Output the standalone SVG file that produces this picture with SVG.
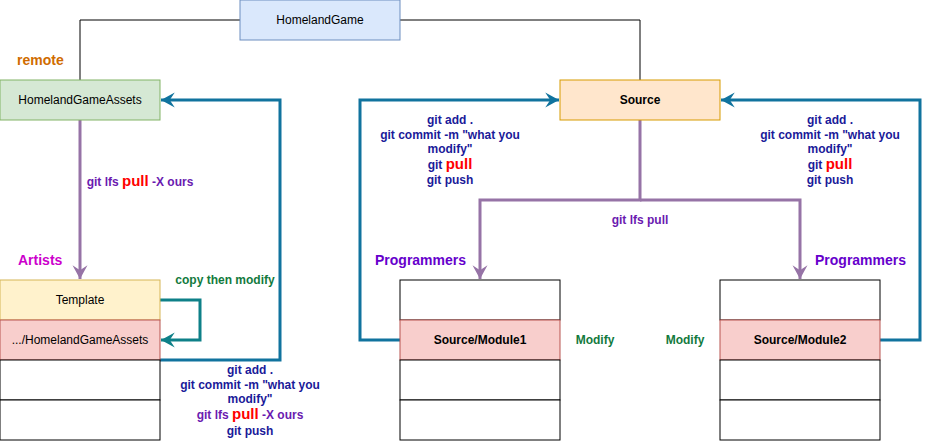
<svg xmlns="http://www.w3.org/2000/svg" width="930" height="441" viewBox="0 0 930 441">
<style>
text{font-family:"Liberation Sans",Arial,sans-serif;font-size:12px;text-anchor:middle}
.b{font-weight:bold}
.cmd{fill:#1a1a99;font-weight:bold;font-size:12px}
.pur{fill:#6a1ab0;font-weight:bold}
.red{fill:#ff0000;font-weight:bold;font-size:15px}
.lab{font-size:14px;font-weight:bold;text-anchor:start}
.grn{fill:#137a3d;font-weight:bold}
.blue{fill:none;stroke:#10739e;stroke-width:3}
.purl{fill:none;stroke:#9673a6;stroke-width:3}
.teal{fill:none;stroke:#0e8088;stroke-width:3}
</style>
<defs>
<marker id="aBlue" markerUnits="userSpaceOnUse" markerWidth="20" markerHeight="20" viewBox="-12 -8 14 16" refX="0" refY="0" orient="auto"><path d="M0,0 L-11,-6 L-7,0 L-11,6 Z" fill="#10739e"/></marker>
<marker id="aPur" markerUnits="userSpaceOnUse" markerWidth="20" markerHeight="20" viewBox="-12 -8 14 16" refX="0" refY="0" orient="auto"><path d="M0,0 L-11,-6 L-7,0 L-11,6 Z" fill="#9673a6"/></marker>
<marker id="aTeal" markerUnits="userSpaceOnUse" markerWidth="20" markerHeight="20" viewBox="-12 -8 14 16" refX="0" refY="0" orient="auto"><path d="M0,0 L-11,-6 L-7,0 L-11,6 Z" fill="#0e8088"/></marker>
</defs>
<rect width="930" height="441" fill="#ffffff"/>
<g id="connectors">
<path d="M240,20 H80 V80" fill="none" stroke="#000" stroke-width="1"/>
<path d="M400,20 H640 V80" fill="none" stroke="#000" stroke-width="1"/>
<path class="purl" d="M80,120 V279" marker-end="url(#aPur)"/>
<path class="teal" d="M160,300 H200 V340 H161" marker-end="url(#aTeal)"/>
<path class="blue" d="M160,360 H280 V100 H161" marker-end="url(#aBlue)"/>
<path class="purl" d="M640,120 V200 H480 V279" marker-end="url(#aPur)"/>
<path class="purl" d="M640,200 H800 V279" marker-end="url(#aPur)"/>
<path class="blue" d="M400,340 H360 V100 H559" marker-end="url(#aBlue)"/>
<path class="blue" d="M880,340 H920 V100 H721" marker-end="url(#aBlue)"/>
</g>
<g id="HomelandGame"><rect x="240" y="0" width="160" height="40" fill="#dae8fc" stroke="#6c8ebf"/><text x="320" y="24">HomelandGame</text></g>
<g id="HomelandGameAssets"><rect x="0" y="80" width="160" height="40" fill="#d5e8d4" stroke="#82b366"/><text x="80" y="104">HomelandGameAssets</text></g>
<g id="Source"><rect x="560" y="80" width="160" height="40" fill="#ffe6cc" stroke="#d79b00"/><text x="640" y="104" class="b">Source</text></g>
<g id="ArtistStack">
<rect x="0" y="280" width="160" height="40" fill="#fff2cc" stroke="#d6b656"/><text x="80" y="304">Template</text>
<rect x="0" y="320" width="160" height="40" fill="#f8cecc" stroke="#b85450"/><text x="80" y="344">.../HomelandGameAssets</text>
<rect x="0" y="360" width="160" height="40" fill="#fff" stroke="#000"/>
<rect x="0" y="400" width="160" height="40" fill="#fff" stroke="#000"/>
</g>
<g id="Module1Stack">
<rect x="400" y="280" width="160" height="40" fill="#fff" stroke="#000"/>
<rect x="400" y="320" width="160" height="40" fill="#f8cecc" stroke="#b85450"/><text x="480" y="344" class="b">Source/Module1</text>
<rect x="400" y="360" width="160" height="40" fill="#fff" stroke="#000"/>
<rect x="400" y="400" width="160" height="40" fill="#fff" stroke="#000"/>
</g>
<g id="Module2Stack">
<rect x="720" y="280" width="160" height="40" fill="#fff" stroke="#000"/>
<rect x="720" y="320" width="160" height="40" fill="#f8cecc" stroke="#b85450"/><text x="800" y="344" class="b">Source/Module2</text>
<rect x="720" y="360" width="160" height="40" fill="#fff" stroke="#000"/>
<rect x="720" y="400" width="160" height="40" fill="#fff" stroke="#000"/>
</g>
<g id="labels">
<text x="17" y="65" class="lab" fill="#d06c00">remote</text>
<text x="18" y="265" class="lab" fill="#cc00cc">Artists</text>
<text x="375" y="265" class="lab" fill="#6600cc">Programmers</text>
<text x="815" y="265" class="lab" fill="#6600cc">Programmers</text>
<text x="140" y="186" class="pur">git lfs <tspan class="red">pull</tspan> -X ours</text>
<text x="225" y="284" class="grn">copy then modify</text>
<text x="595" y="344" class="grn">Modify</text>
<text x="685" y="344" class="grn">Modify</text>
<text x="640" y="224" class="pur">git lfs pull</text>
<text x="250" y="374" class="cmd">git add .</text>
<text x="250" y="389" class="cmd">git commit -m "what you</text>
<text x="250" y="403" class="cmd">modify"</text>
<text x="250" y="419" class="pur">git lfs <tspan class="red">pull</tspan> -X ours</text>
<text x="250" y="435" class="cmd">git push</text>
<text x="450" y="124" class="cmd">git add .</text>
<text x="450" y="139" class="cmd">git commit -m "what you</text>
<text x="450" y="153" class="cmd">modify"</text>
<text x="450" y="169" class="cmd">git <tspan class="red">pull</tspan></text>
<text x="450" y="184" class="cmd">git push</text>
<text x="830" y="124" class="cmd">git add .</text>
<text x="830" y="139" class="cmd">git commit -m "what you</text>
<text x="830" y="153" class="cmd">modify"</text>
<text x="830" y="169" class="cmd">git <tspan class="red">pull</tspan></text>
<text x="830" y="184" class="cmd">git push</text>
</g>
</svg>
